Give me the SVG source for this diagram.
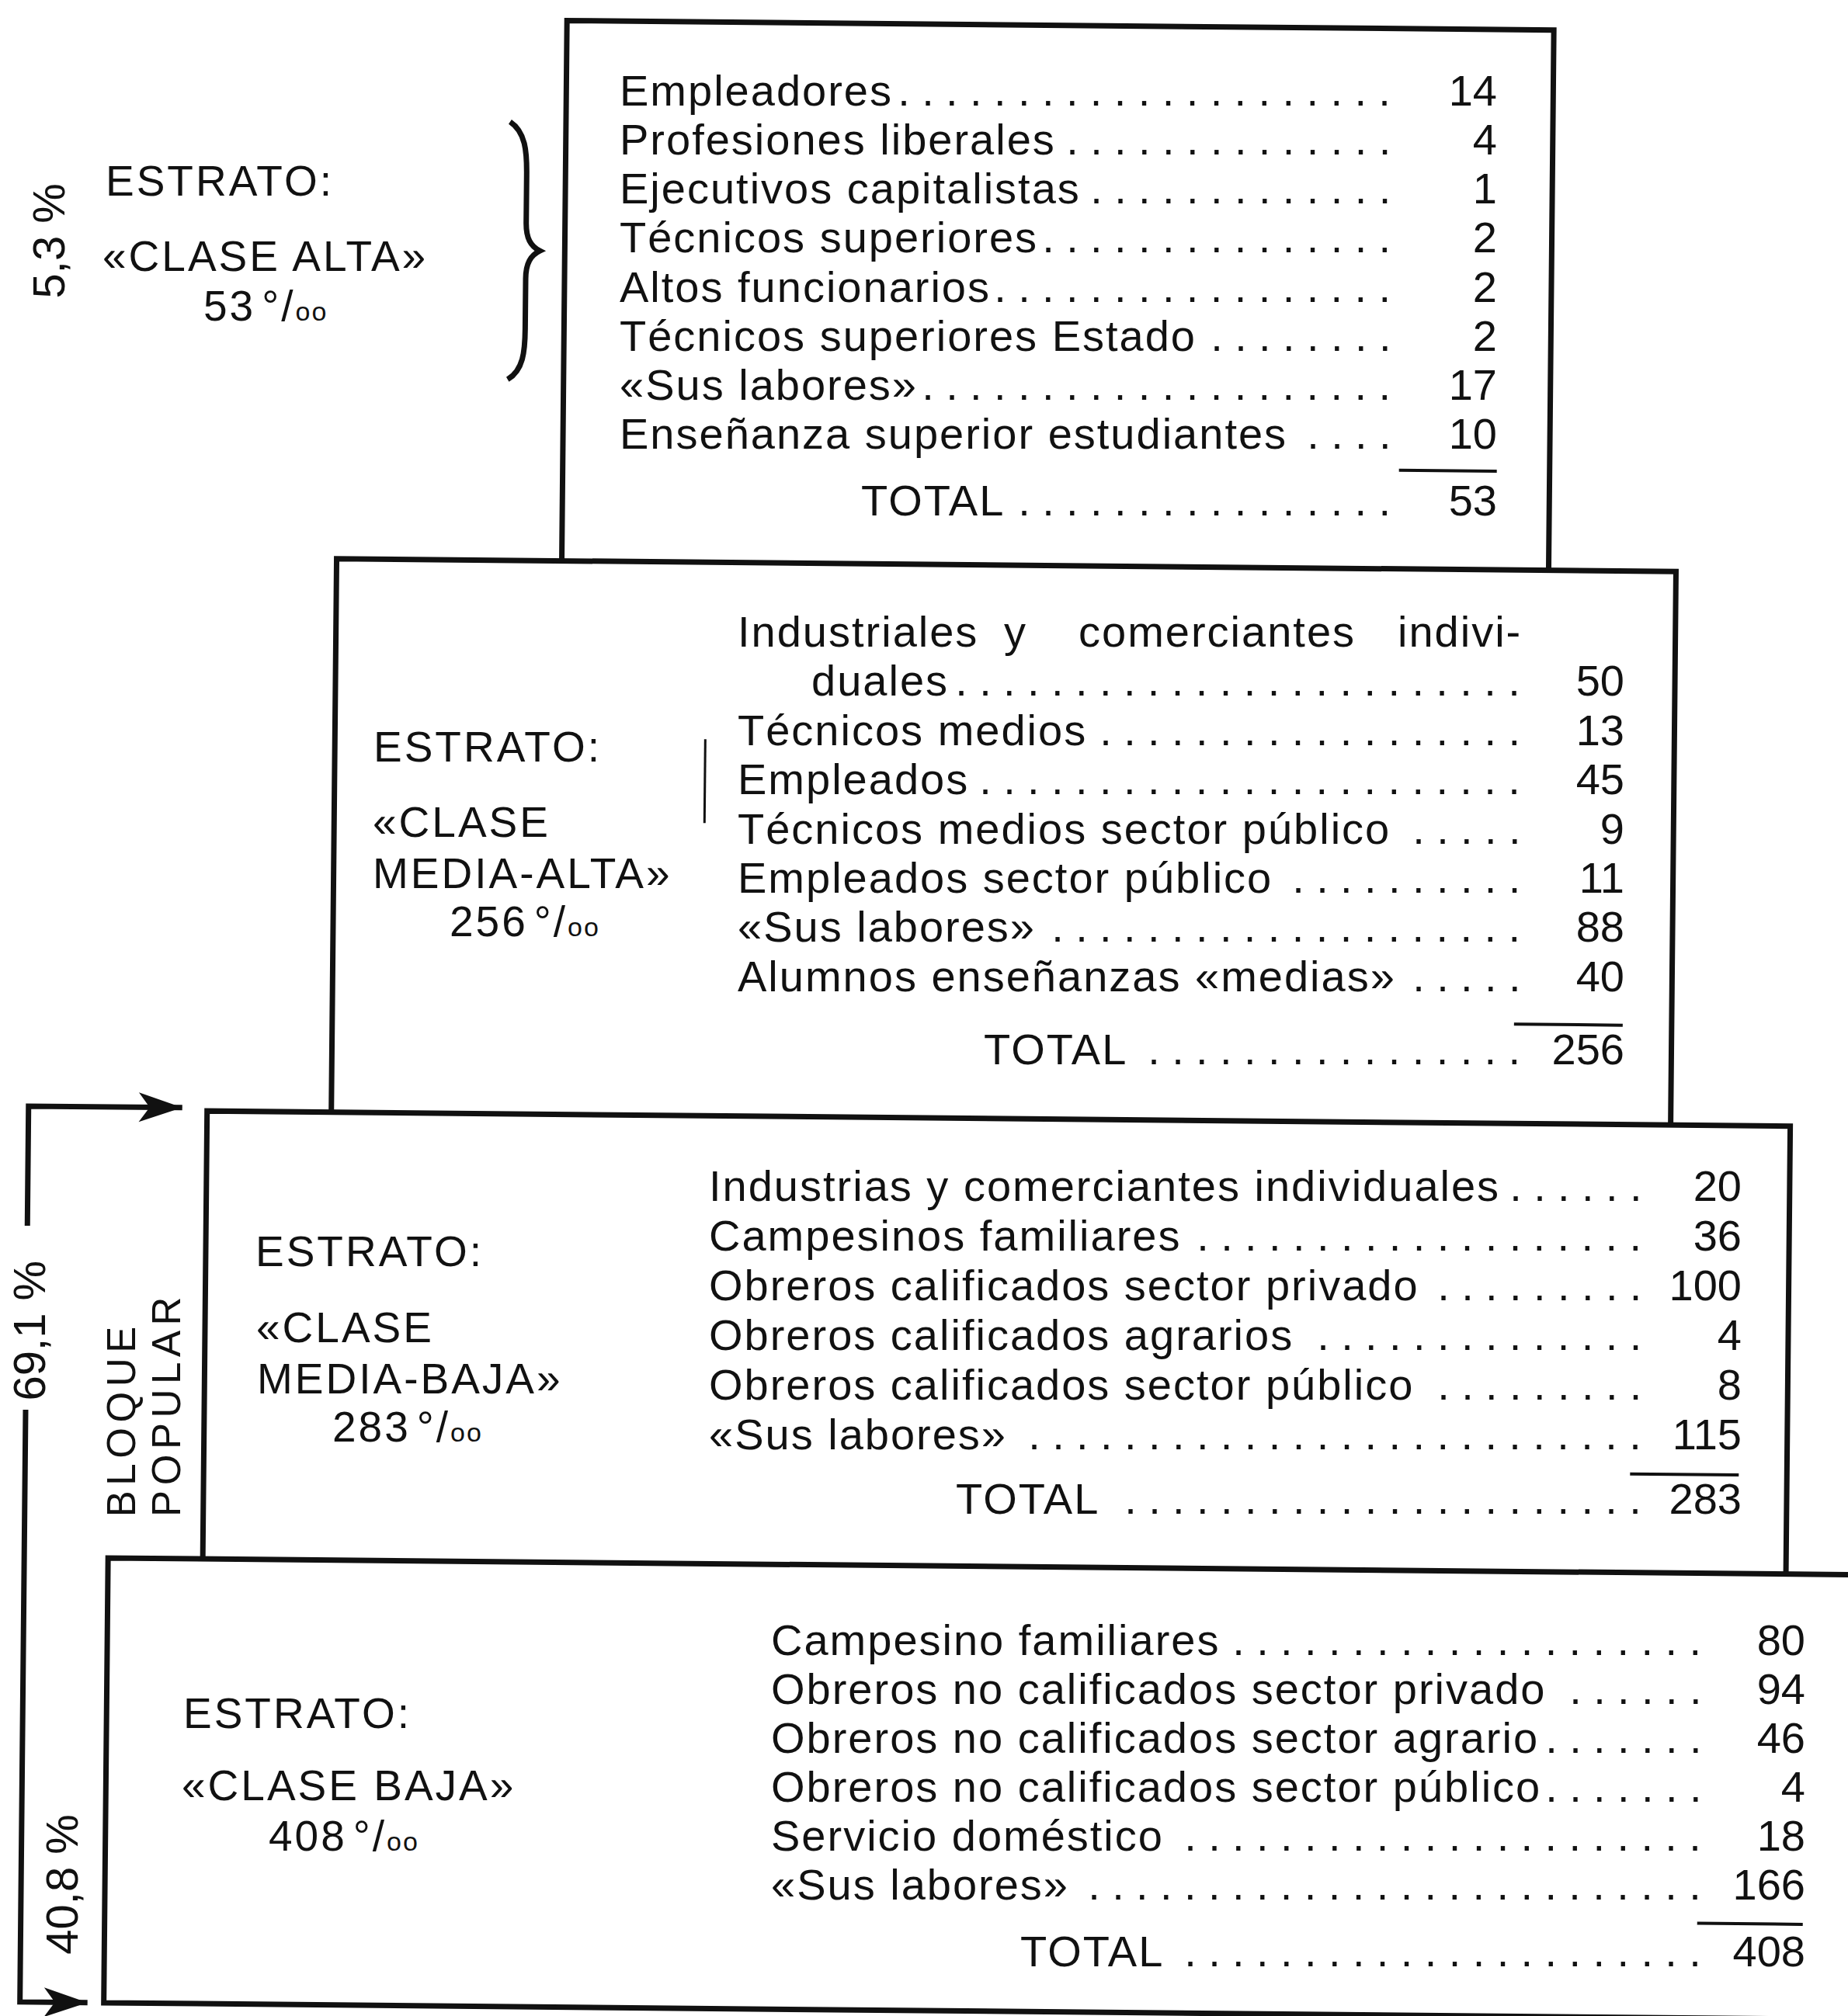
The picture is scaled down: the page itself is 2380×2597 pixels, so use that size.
<svg xmlns="http://www.w3.org/2000/svg" width="2380" height="2597" viewBox="0 0 2380 2597">
<style>
text{font-family:"Liberation Sans",Arial,Helvetica,sans-serif;fill:#111;}
.lbl{font-size:55px;letter-spacing:3px;}
.oo{font-size:34px;letter-spacing:2px;}
.it{font-size:56px;letter-spacing:2px;}
.num{font-size:56px;text-anchor:end;}
.dots{font-size:56px;letter-spacing:15.4px;}
.rot{font-size:58px;}
.rot2{font-size:51px;letter-spacing:6.6px;}
.box{fill:none;stroke:#111;stroke-width:7;stroke-linejoin:miter;}
.rule{stroke:#111;stroke-width:4;}
.conn{fill:none;stroke:#111;stroke-width:7;}
</style>
<defs>
<marker id="ah" markerUnits="userSpaceOnUse" markerWidth="64" markerHeight="44" refX="58" refY="22" orient="auto">
<path d="M2,3 L58,22 L2,41 L16,22 z" fill="#111"/>
</marker>
</defs>
<rect x="0" y="0" width="2380" height="2597" fill="#fff"/>

<g id="side-labels">
<text class="rot" transform="translate(83.4,310.3) rotate(-90)" text-anchor="middle">5,3 %</text>
<text class="rot" transform="translate(57.9,1714.2) rotate(-90)" text-anchor="middle">69,1 %</text>
<text class="rot" transform="translate(100.2,2517.7) rotate(-90)">40,8 %</text>
<text class="rot2" transform="translate(173.6,1954.3) rotate(-90)">BLOQUE</text>
<text class="rot2" transform="translate(231.6,1953.9) rotate(-90)">POPULAR</text>
</g>

<g id="connectors" transform="rotate(0.55 1190 1300)">
<path class="conn" d="M38,1590 V1436 H236" marker-end="url(#ah)"/>
<path class="conn" d="M38,1827 V2590 H125" marker-end="url(#ah)"/>
<path d="M646,162 C666,175 668,200 668,230 L668,292 C668,312 674,322 686,328 C674,334 668,344 668,364 L668,428 C668,458 666,482 646,494" fill="none" stroke="#111" stroke-width="7"/>
</g>

<g id="node-clase-alta">
<g transform="rotate(0.55 1190 1300)">
<path class="box" d="M718,727 V31 H1989 V727"/>
<line class="rule" x1="1795" y1="600" x2="1921" y2="600"/>
</g>
<g transform="translate(9,-10)">
<text class="lbl" x="127" y="262">ESTRATO:</text>
<text class="lbl" x="123" y="359">«CLASE ALTA»</text>
<text class="lbl" x="253" y="423">53<tspan dx="8">°</tspan>/<tspan class="oo">oo</tspan></text>
</g>
<g transform="translate(9,2)">
<text class="it" x="789" y="134">Empleadores</text><text class="dots" x="1147.2" y="134">.....................</text><text class="num" x="1919" y="134">14</text>
<text class="it" x="789" y="197">Profesiones liberales</text><text class="dots" x="1364.2" y="197">..............</text><text class="num" x="1919" y="197">4</text>
<text class="it" x="789" y="260">Ejecutivos capitalistas</text><text class="dots" x="1395.2" y="260">.............</text><text class="num" x="1919" y="260">1</text>
<text class="it" x="789" y="323">Técnicos superiores</text><text class="dots" x="1333.2" y="323">...............</text><text class="num" x="1919" y="323">2</text>
<text class="it" x="789" y="387">Altos funcionarios</text><text class="dots" x="1271.2" y="387">.................</text><text class="num" x="1919" y="387">2</text>
<text class="it" x="789" y="450">Técnicos superiores Estado</text><text class="dots" x="1550.2" y="450">........</text><text class="num" x="1919" y="450">2</text>
<text class="it" x="789" y="513">«Sus labores»</text><text class="dots" x="1178.2" y="513">....................</text><text class="num" x="1919" y="513">17</text>
<text class="it" x="789" y="576">Enseñanza superior estudiantes</text><text class="dots" x="1674.2" y="576">....</text><text class="num" x="1919" y="576">10</text>
<text class="it" x="1100" y="662">TOTAL</text><text class="dots" x="1302.2" y="662">................</text><text class="num" x="1919" y="662">53</text>
</g>
</g>

<g id="node-clase-media-alta">
<g transform="rotate(0.55 1190 1300)">
<path class="box" d="M428,1440 V727 H2153 V1440"/>
<line x1="905" y1="955" x2="905" y2="1063" stroke="#111" stroke-width="3"/>
<line class="rule" x1="1950" y1="1312" x2="2090" y2="1312"/>
</g>
<g transform="translate(2,-6)">
<text class="lbl" x="479" y="987">ESTRATO:</text>
<text class="lbl" x="478" y="1084">«CLASE</text>
<text class="lbl" x="478" y="1150">MEDIA-ALTA»</text>
<text class="lbl" x="577" y="1212">256<tspan dx="8">°</tspan>/<tspan class="oo">oo</tspan></text>
</g>
<g transform="translate(2,3)">
<text class="it" y="830"><tspan x="948">Industriales</tspan> <tspan x="1291">y</tspan> <tspan x="1387">comerciantes</tspan> <tspan x="1798">indivi-</tspan></text>
<text class="it" x="1043" y="893">duales</text><text class="dots" x="1228.2" y="893">........................</text><text class="num" x="2090" y="893">50</text>
<text class="it" x="948" y="957">Técnicos medios</text><text class="dots" x="1414.2" y="957">..................</text><text class="num" x="2090" y="957">13</text>
<text class="it" x="948" y="1020">Empleados</text><text class="dots" x="1259.2" y="1020">.......................</text><text class="num" x="2090" y="1020">45</text>
<text class="it" x="948" y="1084">Técnicos medios sector público</text><text class="dots" x="1817.2" y="1084">.....</text><text class="num" x="2090" y="1084">9</text>
<text class="it" x="948" y="1147">Empleados sector público</text><text class="dots" x="1662.2" y="1147">..........</text><text class="num" x="2090" y="1147">11</text>
<text class="it" x="948" y="1210">«Sus labores»</text><text class="dots" x="1352.2" y="1210">....................</text><text class="num" x="2090" y="1210">88</text>
<text class="it" x="948" y="1274">Alumnos enseñanzas «medias»</text><text class="dots" x="1817.2" y="1274">.....</text><text class="num" x="2090" y="1274">40</text>
<text class="it" x="1265" y="1368">TOTAL</text><text class="dots" x="1476.2" y="1368">................</text><text class="num" x="2090" y="1368">256</text>
</g>
</g>

<g id="node-clase-media-baja">
<g transform="rotate(0.55 1190 1300)">
<path class="box" d="M268,2017 V1440 H2307 V2017"/>
<line class="rule" x1="2105" y1="1890" x2="2245" y2="1890"/>
</g>
<g transform="translate(-4,-8)">
<text class="lbl" x="333" y="1639">ESTRATO:</text>
<text class="lbl" x="334" y="1737">«CLASE</text>
<text class="lbl" x="335" y="1803">MEDIA-BAJA»</text>
<text class="lbl" x="432" y="1865">283<tspan dx="8">°</tspan>/<tspan class="oo">oo</tspan></text>
</g>
<g transform="translate(-4,4)">
<text class="it" x="917" y="1543">Industrias y comerciantes individuales</text><text class="dots" x="1948.2" y="1543">......</text><text class="num" x="2247" y="1543">20</text>
<text class="it" x="917" y="1607">Campesinos familiares</text><text class="dots" x="1545.2" y="1607">...................</text><text class="num" x="2247" y="1607">36</text>
<text class="it" x="917" y="1671">Obreros calificados sector privado</text><text class="dots" x="1855.2" y="1671">.........</text><text class="num" x="2247" y="1671">100</text>
<text class="it" x="917" y="1735">Obreros calificados agrarios</text><text class="dots" x="1700.2" y="1735">..............</text><text class="num" x="2247" y="1735">4</text>
<text class="it" x="917" y="1799">Obreros calificados sector público</text><text class="dots" x="1855.2" y="1799">.........</text><text class="num" x="2247" y="1799">8</text>
<text class="it" x="917" y="1863">«Sus labores»</text><text class="dots" x="1328.2" y="1863">..........................</text><text class="num" x="2247" y="1863">115</text>
<text class="it" x="1235" y="1946">TOTAL</text><text class="dots" x="1452.2" y="1946">......................</text><text class="num" x="2247" y="1946">283</text>
</g>
</g>

<g id="node-clase-baja">
<g transform="rotate(0.55 1190 1300)">
<path class="box" d="M2430,2017 H146 V2590 H2430"/>
<line class="rule" x1="2197" y1="2468" x2="2333" y2="2468"/>
</g>
<g transform="translate(-10,-9)">
<text class="lbl" x="246" y="2235">ESTRATO:</text>
<text class="lbl" x="244" y="2328">«CLASE BAJA»</text>
<text class="lbl" x="356" y="2393">408<tspan dx="8">°</tspan>/<tspan class="oo">oo</tspan></text>
</g>
<g transform="translate(-10,5)">
<text class="it" x="1003" y="2127">Campesino familiares</text><text class="dots" x="1597.2" y="2127">....................</text><text class="num" x="2335" y="2127">80</text>
<text class="it" x="1003" y="2190">Obreros no calificados sector privado</text><text class="dots" x="2031.2" y="2190">......</text><text class="num" x="2335" y="2190">94</text>
<text class="it" x="1003" y="2253">Obreros no calificados sector agrario</text><text class="dots" x="2000.2" y="2253">.......</text><text class="num" x="2335" y="2253">46</text>
<text class="it" x="1003" y="2316">Obreros no calificados sector público</text><text class="dots" x="2000.2" y="2316">.......</text><text class="num" x="2335" y="2316">4</text>
<text class="it" x="1003" y="2379">Servicio doméstico</text><text class="dots" x="1535.2" y="2379">......................</text><text class="num" x="2335" y="2379">18</text>
<text class="it" x="1003" y="2442">«Sus labores»</text><text class="dots" x="1411.2" y="2442">..........................</text><text class="num" x="2335" y="2442">166</text>
<text class="it" x="1324" y="2528">TOTAL</text><text class="dots" x="1535.2" y="2528">......................</text><text class="num" x="2335" y="2528">408</text>
</g>
</g>

</svg>
